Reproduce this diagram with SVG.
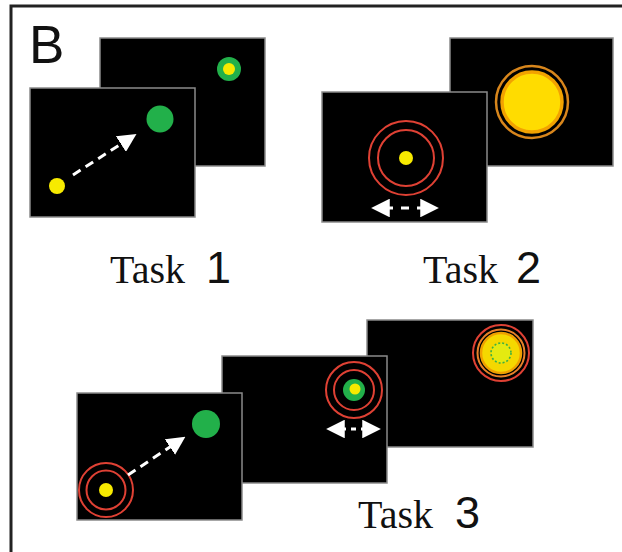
<svg xmlns="http://www.w3.org/2000/svg" width="622" height="552" viewBox="0 0 622 552">
  <style>
    .panel { fill: #000; stroke: #8a8a8a; stroke-width: 1.5; }
    .yellow { fill: #f7ea00; }
    .green { fill: #22b04a; }
    .ring { fill: none; stroke: #df4134; stroke-width: 2; }
    .arrow { stroke: #fff; stroke-width: 3; fill: none; }
    .serif { font-family: "Liberation Serif", "Times New Roman", serif; font-size: 40px; fill: #111; }
    .sans { font-family: "Liberation Sans", Arial, sans-serif; font-size: 45px; fill: #111; }
  </style>
  <defs>
    <marker id="head" viewBox="0 0 10 10" refX="2" refY="5" markerWidth="6.2" markerHeight="6.2" orient="auto-start-reverse" markerUnits="strokeWidth">
      <path d="M0,0 L10,5 L0,10 Z" fill="#fff"/>
    </marker>
  </defs>

  <rect width="622" height="552" fill="#fff"/>
  <!-- frame: top and left rules -->
  <path d="M11,552 V6 H622" fill="none" stroke="#222" stroke-width="3"/>
  <text x="29" y="63" class="sans" style="font-size:53px">B</text>

  <!-- Task 1 -->
  <g id="task1-back">
    <rect class="panel" x="100" y="38" width="165" height="128"/>
    <circle class="green" cx="229" cy="69" r="12"/>
    <circle class="yellow" cx="229" cy="69" r="6"/>
  </g>
  <g id="task1-front">
    <rect class="panel" x="30" y="88" width="165" height="129"/>
    <circle class="green" cx="160" cy="119" r="13.5"/>
    <circle class="yellow" cx="57" cy="186" r="8"/>
  </g>
  <g id="task1-label">
    <text x="110" y="283" class="serif">Task</text>
    <text x="206" y="283" class="sans">1</text>
  </g>

  <!-- Task 2 -->
  <g id="task2-back">
    <rect class="panel" x="450" y="38" width="163" height="128"/>
    <circle cx="532" cy="102" r="36" fill="none" stroke="#d8861c" stroke-width="2.5"/>
    <circle cx="532" cy="102" r="30" fill="#ffdc00" stroke="#f2a200" stroke-width="3.5"/>
  </g>
  <g id="task2-front">
    <rect class="panel" x="322" y="92" width="165" height="130"/>
    <circle class="ring" cx="406" cy="158" r="37"/>
    <circle class="ring" cx="406" cy="158" r="28"/>
    <circle class="yellow" cx="406" cy="158" r="7"/>
  </g>
  <g id="task2-label">
    <text x="423" y="283" class="serif">Task</text>
    <text x="516" y="283" class="sans">2</text>
  </g>

  <!-- Task 3 -->
  <g id="task3-back">
    <rect class="panel" x="367" y="320" width="166" height="127"/>
    <circle class="ring" cx="501" cy="353" r="28"/>
    <circle cx="501" cy="353" r="23.5" fill="none" stroke="#e8802a" stroke-width="2"/>
    <circle cx="501" cy="353" r="20" fill="#f5d800" stroke="#f0a000" stroke-width="2.5"/>
    <circle cx="501" cy="353" r="10" fill="#e4ea10" stroke="#3cb043" stroke-width="1.6" stroke-dasharray="2 2"/>
  </g>
  <g id="task3-middle">
    <rect class="panel" x="222" y="356" width="165" height="127"/>
    <circle class="ring" cx="354" cy="390" r="28"/>
    <circle class="ring" cx="354" cy="390" r="20"/>
    <circle class="green" cx="354" cy="390" r="11"/>
    <circle class="yellow" cx="355" cy="389" r="5.5"/>
  </g>
  <g id="task3-front">
    <rect class="panel" x="77" y="393" width="165" height="127"/>
    <circle class="green" cx="206" cy="424" r="14"/>
    <circle class="ring" cx="106" cy="490" r="27"/>
    <circle class="ring" cx="106" cy="490" r="19.5"/>
    <circle class="yellow" cx="106" cy="490" r="7"/>
  </g>
  <g id="task3-label">
    <text x="358" y="528" class="serif">Task</text>
    <text x="455" y="528" class="sans">3</text>
  </g>

  <!-- movement arrows -->
  <g id="connectors">
    <line class="arrow" x1="73" y1="175" x2="124" y2="142" stroke-dasharray="9 6" marker-end="url(#head)"/>
    <line class="arrow" x1="386" y1="208" x2="424" y2="208" stroke-dasharray="7 8 8 8 7 100" marker-start="url(#head)" marker-end="url(#head)"/>
    <line class="arrow" x1="128" y1="475" x2="173" y2="445" stroke-dasharray="9 6" marker-end="url(#head)"/>
    <line class="arrow" x1="341" y1="429" x2="366" y2="429" stroke-dasharray="5 5 5 5 5 100" marker-start="url(#head)" marker-end="url(#head)"/>
  </g>
</svg>
